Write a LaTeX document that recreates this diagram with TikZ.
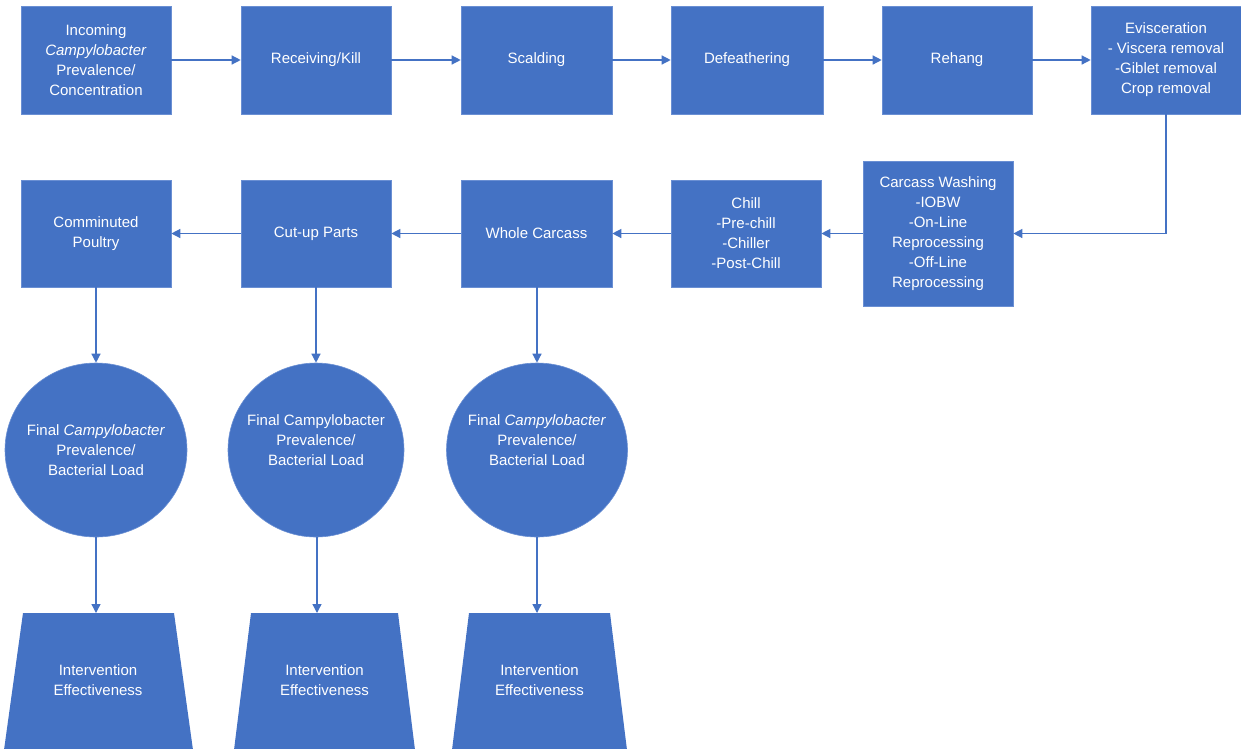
\documentclass[tikz,border=0pt]{standalone}
\usepackage{fontspec}
\setmainfont{Liberation Sans}
\usetikzlibrary{arrows.meta,shapes.geometric}
\definecolor{boxblue}{HTML}{4472C4}
\definecolor{edgeblue}{HTML}{6A8FD3}
\begin{document}
\begin{tikzpicture}[x=1pt,y=-1pt,
  box/.style={rectangle, fill=boxblue, draw=edgeblue, line width=0.6pt, text=white, align=center,
              font=\fontsize{15}{20}\selectfont, inner sep=0pt, minimum width=150pt, minimum height=107pt},
  disc/.style={ellipse, fill=boxblue, draw=edgeblue, line width=0.6pt, inner sep=0pt,
               minimum width=180pt, minimum height=174pt},
  txt/.style={text=white, align=center, font=\fontsize{15}{20}\selectfont, inner sep=0pt},
  trap/.style={fill=boxblue},
  arr/.style={draw=boxblue, line width=1.3pt, -{Triangle[length=9pt,width=9pt]}}]
\useasboundingbox (0,0) rectangle (1241,748);

% top row
\node[box, minimum height=108pt] (inc) at (96,60) {Incoming\\\textit{Campylobacter}\\Prevalence/\\Concentration};
\node[box, minimum height=108pt] (rk)  at (316,60) {Receiving/Kill};
\node[box, minimum height=108pt, minimum width=151pt] (sca) at (536.5,60) {Scalding};
\node[box, minimum height=108pt, minimum width=152pt] (def) at (747,60) {Defeathering};
\node[box, minimum height=108pt] (reh) at (957,60) {Rehang};
\node[box, minimum height=108pt] (evi) at (1166,60) {Evisceration\\- Viscera removal\\-Giblet removal\\Crop removal};

% second row
\node[box] (com) at (96,233.5) {Comminuted\\Poultry};
\node[box] (cut) at (316,233.5) {Cut-up Parts};
\node[box, minimum width=151pt] (who) at (536.5,233.5) {Whole Carcass};
\node[box] (chi) at (746,233.5) {Chill\\-Pre-chill\\-Chiller\\-Post-Chill};
\node[box, minimum height=145pt] (cw) at (938,233.5) {Carcass Washing\\-IOBW\\-On-Line\\Reprocessing\\-Off-Line\\Reprocessing};

% circles
\node[disc, minimum width=182pt] (k1) at (96,450) {};
\node[disc, minimum width=176pt] (k2) at (316,450) {};
\node[disc, minimum width=181pt] (k3) at (537,450) {};
\node[txt] (k1t) at (96,450) {Final \textit{Campylobacter}\\Prevalence/\\Bacterial Load};
\node[txt] (k2t) at (316,440) {Final Campylobacter\\Prevalence/\\Bacterial Load};
\node[txt] (k3t) at (537,440) {Final \textit{Campylobacter}\\Prevalence/\\Bacterial Load};

% trapezoids
\fill[trap] (23,613) -- (174,613) -- (193,750) -- (4,750) -- cycle;
\fill[trap] (251,613) -- (398,613) -- (415,750) -- (234,750) -- cycle;
\fill[trap] (469,613) -- (610,613) -- (627,750) -- (452,750) -- cycle;
\coordinate (t1) at (96,613);
\coordinate (t2) at (317,613);
\coordinate (t3) at (537,613);
\node[txt] (t1t) at (98,680) {Intervention\\Effectiveness};
\node[txt] (t2t) at (324.5,680) {Intervention\\Effectiveness};
\node[txt] (t3t) at (539.5,680) {Intervention\\Effectiveness};

% connectors
\draw[arr] (inc) -- (rk);
\draw[arr] (rk) -- (sca);
\draw[arr] (sca) -- (def);
\draw[arr] (def) -- (reh);
\draw[arr] (reh) -- (evi);
\draw[arr] (evi.south) |- (cw.east);
\draw[arr] (cw) -- (chi);
\draw[arr] (chi) -- (who);
\draw[arr] (who) -- (cut);
\draw[arr] (cut) -- (com);
\draw[arr] (com) -- (k1);
\draw[arr] (cut) -- (k2);
\draw[arr] (who.south -| k3) -- (k3);
\draw[arr] (k1) -- (t1);
\draw[arr] (k2.south -| t2) -- (t2);
\draw[arr] (k3) -- (t3);
\end{tikzpicture}
\end{document}
